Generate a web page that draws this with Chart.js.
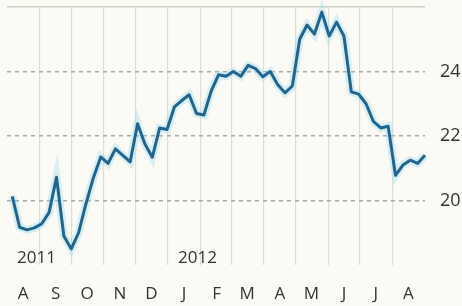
<!DOCTYPE html>
<html>
<head>
<meta charset="utf-8">
<script src="https://cdn.jsdelivr.net/npm/chart.js@4/dist/chart.umd.min.js"></script>
<style>
  html, body { margin: 0; padding: 0; background: #fbfaf4; }
  #wrap { width: 462px; height: 306px; position: relative; }
</style>
</head>
<body>
<div id="wrap"><canvas id="chart"></canvas></div>
<script>
// days counted from 1 Aug 2011
const monthStarts = [0, 31, 61, 92, 122, 153, 184, 213, 244, 274, 305, 335, 366, 397];
const monthLabels = ['A', 'S', 'O', 'N', 'D', 'J', 'F', 'M', 'A', 'M', 'J', 'J', 'A'];
const yearLabels = [{ text: '2011', day: 0 }, { text: '2012', day: 153 }];
const yTicks = [20, 22, 24];

// weekly readings, first one on 6 Aug 2011
const firstWeekDay = 5;
const weeklyValues = [
  20.13, 19.17, 19.09, 19.15, 19.28, 19.63, 20.72, 18.9, 18.5, 19.0,
  19.9, 20.7, 21.35, 21.15, 21.6, 21.4, 21.2, 22.38, 21.75, 21.34,
  22.25, 22.2, 22.9, 23.1, 23.28, 22.7, 22.65, 23.4, 23.9, 23.85,
  24.0, 23.85, 24.19, 24.09, 23.84, 24.0, 23.6, 23.34, 23.55, 25.0,
  25.44, 25.16, 25.84, 25.1, 25.53, 25.1, 23.37, 23.3, 23.0, 22.45,
  22.25, 22.3, 20.78, 21.1, 21.25, 21.15, 21.4
];

const points = weeklyValues.map((v, i) => ({ x: firstWeekDay + 7 * i, y: v }));
const textColor = '#333';
const font = "'Open Sans', 'Liberation Sans', sans-serif";

const yearPlugin = {
  id: 'yearLabels',
  beforeDraw(chart) {
    const c = chart.ctx;
    c.save();
    c.fillStyle = '#fbfaf4';
    c.fillRect(0, 0, chart.width, chart.height);
    c.restore();
  },
  afterDatasetsDraw(chart) {
    const c = chart.ctx;
    const xs = chart.scales.x;
    c.save();
    c.font = '17px ' + font;
    c.fillStyle = textColor;
    c.textBaseline = 'middle';
    yearLabels.forEach(y => {
      c.fillText(y.text, xs.getPixelForValue(y.day) + 10, 258);
    });
    c.restore();
  }
};

new Chart(document.getElementById('chart'), {
  type: 'line',
  data: {
    datasets: [
      {
        data: points,
        borderColor: 'rgba(150,215,240,0.35)',
        borderWidth: 8,
        pointRadius: 0,
        tension: 0,
        clip: false,
        order: 2
      },
      {
        data: points,
        borderColor: '#1e6592',
        borderWidth: 3,
        pointRadius: 0,
        tension: 0,
        clip: false,
        borderJoinStyle: 'round',
        order: 1
      }
    ]
  },
  options: {
    responsive: true,
    maintainAspectRatio: false,
    animation: false,
    layout: { padding: { left: 7, top: 7, right: 0, bottom: 0 } },
    plugins: { legend: { display: false }, tooltip: { enabled: false } },
    scales: {
      x: {
        type: 'linear',
        min: monthStarts[0],
        max: monthStarts[monthStarts.length - 1],
        afterBuildTicks: axis => { axis.ticks = monthStarts.map(v => ({ value: v })); },
        afterFit: axis => {
          axis.height = 41;
          axis.paddingLeft = 0;
          axis.paddingRight = 0;
        },
        grid: {
          drawTicks: false,
          color: c => (c.index === 0 || c.index === monthStarts.length - 1) ? 'rgba(0,0,0,0)' : '#deded8',
          lineWidth: 1.2
        },
        border: { display: false },
        ticks: {
          autoSkip: false,
          maxRotation: 0,
          padding: 19,
          labelOffset: 16,
          color: textColor,
          font: { family: font, size: 17 },
          callback: (v, i) => monthLabels[i] || ''
        }
      },
      y: {
        position: 'right',
        min: 18,
        max: 26,
        afterBuildTicks: axis => { axis.ticks = [18, 20, 22, 24, 26].map(v => ({ value: v })); },
        afterFit: axis => {
          axis.width = 37;
          axis.paddingTop = 0;
          axis.paddingBottom = 0;
        },
        grid: {
          drawTicks: false,
          color: c => c.tick && c.tick.value === 18 ? 'rgba(0,0,0,0)' : (c.tick && c.tick.value === 26 ? '#cfcfc8' : '#a9a9a4'),
          lineWidth: 1.5
        },
        border: {
          display: false,
          dash: c => (c.tick && c.tick.value === 26) ? [] : [4, 4]
        },
        ticks: {
          padding: 15,
          color: textColor,
          font: { family: font, size: 18 },
          callback: v => yTicks.includes(v) ? String(v) : ''
        }
      }
    }
  },
  plugins: [yearPlugin]
});
</script>
</body>
</html>
